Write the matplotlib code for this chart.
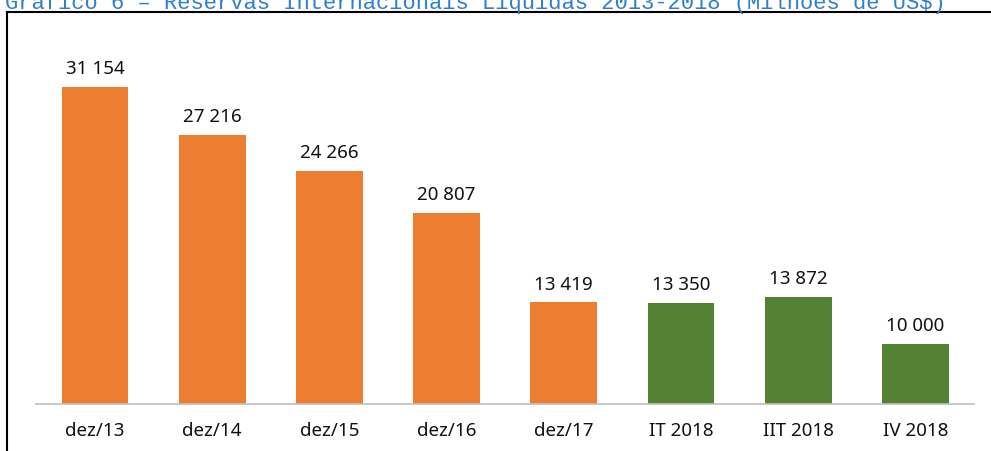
import matplotlib
matplotlib.use("Agg")
import matplotlib.pyplot as plt
from matplotlib.lines import Line2D

# data
categories = ["dez/13", "dez/14", "dez/15", "dez/16", "dez/17", "IT 2018", "IIT 2018", "IV 2018"]
values = [31154, 27216, 24266, 20807, 13419, 13350, 13872, 10000]
value_labels = ["31 154", "27 216", "24 266", "20 807", "13 419", "13 350", "13 872", "10 000"]
is_2018 = [False, False, False, False, False, True, True, True]

title = "Gráfico 6 – Reservas Internacionais Líquidas 2013-2018 (Milhões de US$)"

ORANGE = "#ED7D31"
GREEN = "#548235"
W, H = 991, 452

plt.rcParams["font.family"] = ["Noto Sans", "DejaVu Sans"]

fig = plt.figure(figsize=(W / 100, H / 100), dpi=100)
# axes placed in pixel terms, bottom line at y=405, category span 36..974
ax = fig.add_axes([36.4 / W, 1 - 405 / H, (974 - 36.4) / W, (405 - 30) / H])

colors = [GREEN if g else ORANGE for g in is_2018]
x = list(range(len(categories)))
ax.bar(x, values, width=0.57, color=colors, zorder=2)

for xi, v, lab in zip(x, values, value_labels):
    ax.annotate(lab, (xi, v), xytext=(0, 10), textcoords="offset points",
                ha="center", va="baseline", fontsize=13.5, color="#111111")

ax.set_xlim(-0.5, len(categories) - 0.5)
ax.set_ylim(5062, 35930)
ax.set_xticks(x)
ax.set_xticklabels(categories, fontsize=13.5, color="#111111")
ax.tick_params(axis="x", length=0, pad=12)
ax.set_yticks([])
for side in ["top", "right", "left"]:
    ax.spines[side].set_visible(False)
ax.spines["bottom"].set_color("#BFBFBF")
ax.spines["bottom"].set_linewidth(1.2)

# frame around the chart (only left and top edges visible in the crop)
fig.add_artist(Line2D([7 / W, 7 / W], [-0.1, 1 - 13 / H], color="black", lw=1.5,
                      transform=fig.transFigure))
fig.add_artist(Line2D([7 / W, 1.1], [1 - 13 / H, 1 - 13 / H], color="black", lw=1.5,
                      transform=fig.transFigure))

# title cut off at the top of the picture
fig.text(5 / W, 1 - 9.5 / H, title, family="Liberation Mono", fontsize=15.9,
         color="#2E7FCF", ha="left", va="baseline")

fig.savefig("out.png", dpi=100)
